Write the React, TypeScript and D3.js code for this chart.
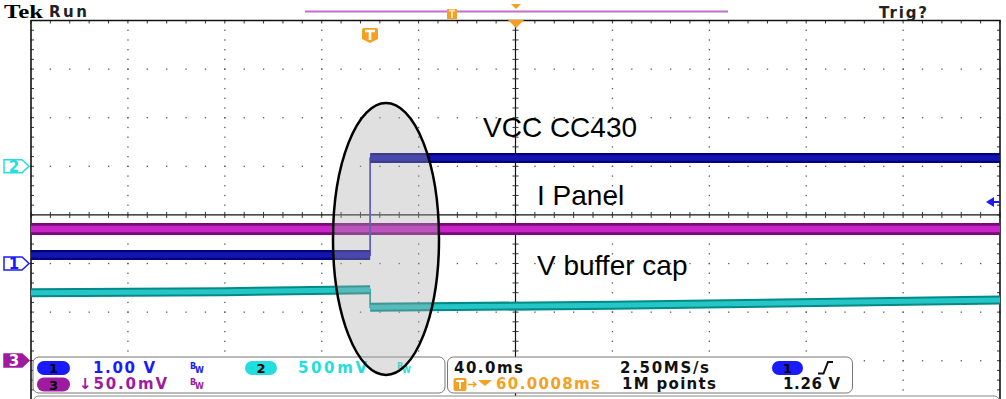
import React from "react";
import * as d3 from "d3";

// ---- data (time in ms relative to trigger, volts) ----
const timeRange = [-140, 260]; // 40 ms/div, 10 divisions
const ch1Time = [-140, 0, 0, 260];
const ch1Volts = [0.175, 0.175, 2.17, 2.17]; // VCC CC430, 1.00 V/div, pos -1 div
const ch2Time = [-140, -60, 0, 0, 100, 260];
const ch2Volts = [-1.3, -1.29, -1.27, -1.45, -1.43, -1.375]; // V buffer cap, 500 mV/div, pos +1 div
const ch3Time = [-140, 260];
const ch3Volts = [0.1355, 0.1355]; // I Panel, 50 mV/div, pos -3 div
const channelScales = [1.0, 0.5, 0.05];
const channelPositions = [-1, 1, -3];
const traceLabels = ["VCC CC430", "I Panel", "V buffer cap"];

const W = 1006, H = 399;
const X0 = 31, X1 = 1000, Y0 = 20.5, DY = 48.6;

function App() {
  const x = d3.scaleLinear().domain(timeRange).range([X0, X1]);
  const yDiv = d3.scaleLinear().domain([-4, 4]).range([Y0 + 8 * DY, Y0]);
  const yCh = (ci: number, v: number) => yDiv(v / channelScales[ci] + channelPositions[ci]);

  const majorT = d3.range(timeRange[0], timeRange[1] + 0.01, 40);
  const minorT = d3.range(timeRange[0], timeRange[1] + 0.01, 8);
  const majorD = d3.range(-4, 4.01, 1);
  const minorD = d3.range(-4, 4.01, 0.2);
  const xC = x(60);
  const yC = yDiv(0);

  const dots: React.ReactNode[] = [];
  majorT.forEach((t, i) => {
    if (i === 0 || i === majorT.length - 1 || t === 60) return;
    minorD.forEach((d, j) => dots.push(<rect key={`v${i}-${j}`} x={x(t) - 0.6} y={yDiv(d) - 0.6} width={1.3} height={1.3} fill="#555" />));
  });
  majorD.forEach((d, i) => {
    if (d === 0 || d === 4) return;
    minorT.forEach((t, j) => dots.push(<rect key={`h${i}-${j}`} x={x(t) - 0.6} y={yDiv(d) - 0.6} width={1.3} height={1.3} fill="#555" />));
  });

  const line = d3.line<[number, number]>().x((p) => p[0]).y((p) => p[1]);

  const trace = (ci: number, ts: number[], vs: number[], dark: string, bright: string, thin: string, band: number) => {
    const pts: [number, number][] = ts.map((t, i) => [x(t), yCh(ci, vs[i])]);
    const segs: [number, number][][] = [];
    let cur: [number, number][] = [pts[0]];
    for (let i = 1; i < pts.length; i++) {
      if (ts[i] === ts[i - 1]) {
        segs.push(cur);
        cur = [pts[i]];
      } else cur.push(pts[i]);
    }
    segs.push(cur);
    return (
      <g>
        <path d={line(pts) || ""} fill="none" stroke={thin} strokeWidth={1.8} />
        {segs.map((s, k) => (
          <g key={k}>
            <path d={line(s) || ""} fill="none" stroke={dark} strokeWidth={band} />
            <path d={line(s) || ""} fill="none" stroke={bright} strokeWidth={band * 0.55} />
          </g>
        ))}
      </g>
    );
  };

  const sans = "'DejaVu Sans', Verdana, sans-serif";
  const arial = "'Liberation Sans', Arial, sans-serif";

  const marker = (yy: number, label: string, color: string, filled: boolean) => (
    <g>
      <path d={`M4,${yy - 6.5} L22,${yy - 6.5} L29,${yy} L22,${yy + 6.5} L4,${yy + 6.5} Z`} fill={filled ? color : "#fff"} stroke={color} strokeWidth={1.5} />
      <text x={14} y={yy + 5.5} fontFamily={sans} fontWeight="bold" fontSize={15} textAnchor="middle" fill={filled ? "#fff" : color}>{label}</text>
    </g>
  );

  const pill = (x0: number, y0: number, w: number, color: string, label: string) => (
    <g>
      <rect x={x0} y={y0} width={w} height={14} rx={7} fill={color} />
      <text x={x0 + w / 2} y={y0 + 12} fontFamily={sans} fontWeight="bold" fontSize={13} textAnchor="middle" fill="#000">{label}</text>
    </g>
  );

  const bw = (x0: number, y0: number, color: string) => (
    <g fill={color} fontFamily={sans} fontSize={8}>
      <text x={x0} y={y0}>B</text>
      <text x={x0 + 5} y={y0 + 4}>W</text>
    </g>
  );

  const blue = "#1a1aff", cyan = "#22dede", purple = "#a01aa0", orange = "#f5a020";

  return (
    <svg width={W} height={H} style={{ position: "absolute", left: 0, top: 0, background: "#fff" }} xmlns="http://www.w3.org/2000/svg">
      <rect width={W} height={H} fill="#fff" />
      {/* graticule dots */}
      {dots}
      {/* center lines with ticks */}
      <line x1={X0} x2={X1} y1={yC} y2={yC} stroke="#111" strokeWidth={1.2} />
      <line x1={xC} x2={xC} y1={Y0} y2={H} stroke="#111" strokeWidth={1.2} />
      {minorT.map((t, i) => (
        <g key={`ct${i}`}>
          <line x1={x(t)} x2={x(t)} y1={yC - 3} y2={yC + 3} stroke="#333" />
          <line x1={x(t)} x2={x(t)} y1={Y0} y2={Y0 + 3} stroke="#333" />
        </g>
      ))}
      {minorD.map((d, i) => (
        <g key={`cd${i}`}>
          <line x1={xC - 3} x2={xC + 3} y1={yDiv(d)} y2={yDiv(d)} stroke="#333" />
          <line x1={X0} x2={X0 + 3} y1={yDiv(d)} y2={yDiv(d)} stroke="#333" />
          <line x1={X1 - 3} x2={X1} y1={yDiv(d)} y2={yDiv(d)} stroke="#333" />
        </g>
      ))}
      {/* border */}
      <path d={`M${X0},${H} L${X0},${Y0} L${X1},${Y0} L${X1},${H}`} fill="none" stroke="#111" strokeWidth={1.6} />

      {/* traces */}
      {trace(2, ch3Time, ch3Volts, "#7a0a7a", "#c824c8", "#a020a0", 12)}
      {trace(1, ch2Time, ch2Volts, "#008a8a", "#26c6c6", "#10a0a0", 9)}
      {trace(0, ch1Time, ch1Volts, "#00007c", "#1414b0", "#3a3ab8", 10)}

      {/* labels */}
      <g fontFamily={arial} fontSize={28} fill="#000">
        <text x={483} y={137}>{traceLabels[0]}</text>
        <text x={537} y={205}>{traceLabels[1]}</text>
        <text x={537} y={275}>{traceLabels[2]}</text>
      </g>

      {/* top bar */}
      <text x={4} y={18} fontFamily="'Liberation Serif', 'DejaVu Serif', serif" fontWeight="bold" fontSize={19} textLength={39} lengthAdjust="spacingAndGlyphs">Tek</text>
      <text x={49} y={17} fontFamily={sans} fontWeight="bold" fontSize={15} textLength={38} lengthAdjust="spacing" fill="#222">Run</text>
      <text x={879} y={18} fontFamily={sans} fontWeight="bold" fontSize={15} textLength={48} lengthAdjust="spacing" fill="#222">Trig?</text>
      <line x1={305} x2={728} y1={11.5} y2={11.5} stroke="#c070c8" strokeWidth={2} />
      <rect x={447} y={9} width={10} height={10} fill={orange} />
      <path d="M449,10.5 L455,10.5 M452,10.5 L452,18" stroke="#ffe0b0" strokeWidth={2} />
      <path d="M511,4 L521,4 L516,9 Z" fill={orange} />
      <path d="M508,20 L524,20 L516,28 Z" fill={orange} />
      <path d={`M362,30 Q362,28 364,28 L376,28 Q378,28 378,30 L378,39 L370,43 L362,39 Z`} fill={orange} />
      <path d="M365,31 L375,31 M370,31 L370,40" stroke="#fff" strokeWidth={2.6} />

      {/* trigger level arrow */}
      <path d="M986,202 L994,197 L994,207 Z" fill={blue} />
      <line x1={993} x2={1000} y1={202} y2={202} stroke={blue} strokeWidth={2} />

      {/* channel markers */}
      {marker(yDiv(channelPositions[1]), "2", cyan, false)}
      {marker(yDiv(channelPositions[0]), "1", blue, false)}
      {marker(360.5, "3", purple, true)}

      {/* status boxes */}
      <rect x={33} y={396} width={967} height={20} rx={6} fill="#fff" stroke="#888" />
      <rect x={33} y={357} width={412} height={36} rx={6} fill="#fff" stroke="#777" />
      <rect x={447.5} y={357} width={405} height={36} rx={6} fill="#fff" stroke="#777" />

      <g fontFamily={sans} fontSize={15} fontWeight="bold">
        {pill(37, 361, 33, blue, "1")}
        <text x={93} y={373} fill={blue} textLength={62} lengthAdjust="spacing">1.00 V</text>
        {bw(190, 369, blue)}
        {pill(245, 361, 32, cyan, "2")}
        <text x={298} y={373} fill={cyan} textLength={69} lengthAdjust="spacing">500mV</text>
        {bw(397, 369, cyan)}
        {pill(37, 377.5, 33, purple, "3")}
        <text x={79} y={389} fill={purple} textLength={88} lengthAdjust="spacing">↓50.0mV</text>
        {bw(190, 385, purple)}

        <text x={454} y={373} fill="#111" textLength={69} lengthAdjust="spacing">40.0ms</text>
        <text x={620} y={373} fill="#111" textLength={89} lengthAdjust="spacing">2.50MS/s</text>
        {pill(772, 361, 31, blue, "1")}
        <path d="M818,373.5 L823.5,373.5 L828,362 L833,362" fill="none" stroke="#111" strokeWidth={2} />
        <rect x={453.5} y={378} width={13} height={13} rx={2} fill={orange} />
        <path d="M456,381 L464,381 M460,381 L460,389" stroke="#fff" strokeWidth={2} />
        <path d="M468,384.5 L476,384.5 M473,382 L476,384.5 L473,387" fill="none" stroke={orange} strokeWidth={1.4} />
        <path d="M478,380 L492,380 L485,386 Z" fill={orange} />
        <text x={496} y={389} fill={orange} textLength={104} lengthAdjust="spacing">60.0008ms</text>
        <text x={622} y={389} fill="#111" textLength={94} lengthAdjust="spacing">1M points</text>
        <text x={783} y={389} fill="#111" textLength={57} lengthAdjust="spacing">1.26 V</text>
      </g>

      {/* highlight ellipse */}
      <ellipse cx={386} cy={239} rx={53} ry={136} fill="#a8a8a8" fillOpacity={0.36} stroke="#000" strokeWidth={2.5} />
    </svg>
  );
}

export default App;
